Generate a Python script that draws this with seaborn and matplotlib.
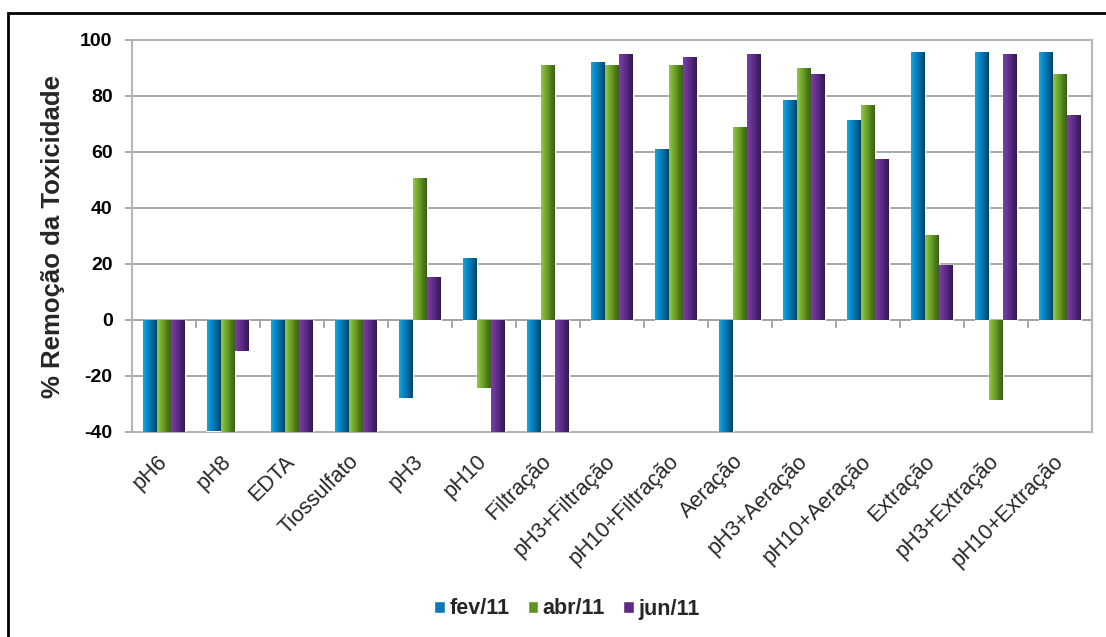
import numpy as np
import pandas as pd
import matplotlib
matplotlib.use("Agg")
import matplotlib.pyplot as plt
from matplotlib.colors import LinearSegmentedColormap
from matplotlib.patches import Rectangle
import seaborn as sns

# Toxicity removal (%) per treatment and sampling campaign
tratamentos = ["pH6", "pH8", "EDTA", "Tiossulfato", "pH3", "pH10", "Filtração",
               "pH3+Filtração", "pH10+Filtração", "Aeração", "pH3+Aeração",
               "pH10+Aeração", "Extração", "pH3+Extração", "pH10+Extração"]
periodos = ["fev/11", "abr/11", "jun/11"]
fev11 = [-40, -39.5, -40, -40, -28, 22, -40, 92, 61, -40, 78.7, 71.4, 95.6, 95.6, 95.6]
abr11 = [-40, -40, -40, -40, 50.7, -24.3, 91.2, 91.2, 91.2, 68.9, 90.1, 76.8, 30.4, -28.7, 87.7]
jun11 = [-40, -11, -40, -40, 15.4, -40, -40, 95, 93.8, 95, 87.7, 57.5, 19.5, 95, 73.2]
yticks = [-40, -20, 0, 20, 40, 60, 80, 100]

df = pd.DataFrame({
    "tratamento": tratamentos * 3,
    "periodo": np.repeat(periodos, len(tratamentos)),
    "remocao": fev11 + abr11 + jun11,
})

cores = ["#0a78b4", "#5f9320", "#5a2a84"]
gradientes = [
    ["#18a2e0", "#0079b5", "#00436a"],
    ["#93cb3c", "#64982a", "#3b5d12"],
    ["#7d3fae", "#5a2a84", "#33154c"],
]

sns.set_theme(style="white")
plt.rcParams["font.family"] = ["Liberation Sans", "DejaVu Sans"]
plt.rcParams["axes.unicode_minus"] = False

W, H = 1106, 637
fig = plt.figure(figsize=(W / 100, H / 100), dpi=100)
ax = fig.add_axes([132 / W, 1 - 432 / H, 960 / W, 392 / H])

sns.barplot(data=df, x="tratamento", y="remocao", hue="periodo",
            palette=cores, width=0.65, gap=0, errorbar=None,
            saturation=1, ax=ax, legend=True, zorder=3)

# Horizontal shading on every bar
for cont, cols in zip(ax.containers, gradientes):
    cmap = LinearSegmentedColormap.from_list("g", cols)
    for p in cont.patches:
        x0, y0 = p.get_x(), p.get_y()
        w, h = p.get_width(), p.get_height()
        im = ax.imshow(np.linspace(0, 1, 64).reshape(1, -1), cmap=cmap,
                       extent=(x0, x0 + w, min(y0, y0 + h), max(y0, y0 + h)),
                       aspect="auto", interpolation="bilinear", zorder=3.5)
        im.set_clip_path(p)

ax.set_xlim(-0.5, len(tratamentos) - 0.5)
ax.set_ylim(-40, 100)
ax.set_yticks(yticks)
ax.set_yticklabels([str(v) for v in yticks], fontsize=14, fontweight="bold", color="black")
ax.grid(axis="y", color="#a3a3a3", linewidth=1.3, zorder=0)
ax.set_axisbelow(True)
for s in ax.spines.values():
    s.set_color("#b5b5b5")
    s.set_linewidth(1.5)
ax.tick_params(axis="y", length=5, width=1.3, color="#a3a3a3", pad=9, left=True, direction="out")
ax.tick_params(axis="x", length=0, pad=19)
ax.set_xticks(range(len(tratamentos)))
ax.set_xticklabels(tratamentos, fontsize=15.5, rotation=45, ha="right", va="center",
                   rotation_mode="anchor")
ax.set_xlabel("")
ax.set_ylabel("% Remoção da Toxicidade", fontsize=18.5, fontweight="bold")
ax.yaxis.label.set_verticalalignment("center")
ax.yaxis.set_label_coords((53 - 132) / 960, 0.5)

# Category axis line through zero, with tick marks between categories
sec = ax.secondary_xaxis(40 / 140)
sec.set_xticks(np.arange(-0.5, len(tratamentos), 1))
sec.tick_params(axis="x", direction="out", length=6, width=1.3, color="#a3a3a3",
                labelbottom=False, labeltop=False, bottom=True, top=False)
for s in sec.spines.values():
    s.set_color("#a3a3a3")
    s.set_linewidth(1.3)

ax.get_legend().remove()
handles = [Rectangle((0, 0), 1, 1, facecolor=c) for c in cores]
fig.legend(handles, periodos, loc="center", bbox_to_anchor=(567 / W, 1 - 609 / H),
           ncol=3, frameon=False, handlelength=0.5, handleheight=0.5,
           handletextpad=0.2, columnspacing=0.85,
           prop={"family": "Liberation Sans", "weight": "bold", "size": 15.5})

# Outer frame of the figure
fig.add_artist(Rectangle((8 / W, -0.1), 1.2, 1.1 - 13 / H + 0.0, transform=fig.transFigure,
                         fill=False, edgecolor="black", linewidth=2))

fig.savefig("out.png", dpi=100, facecolor="white")
